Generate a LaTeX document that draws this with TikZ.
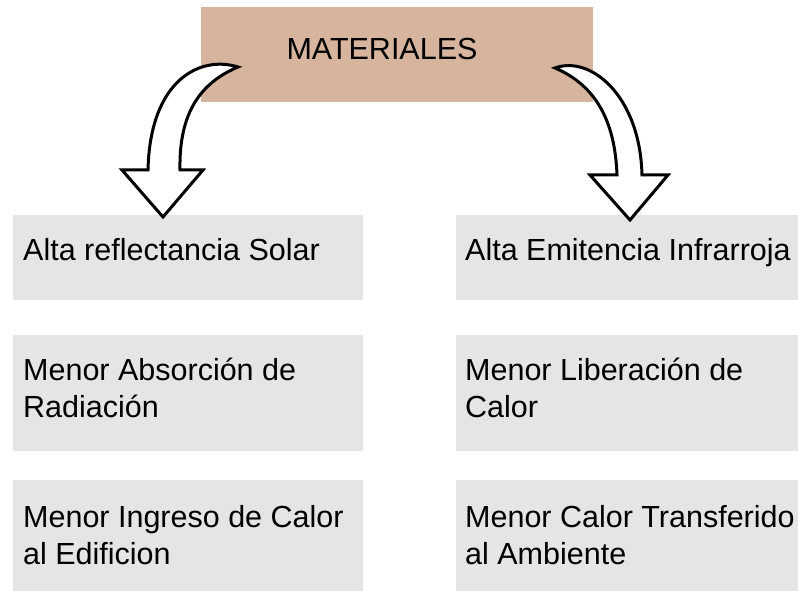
\documentclass[tikz,border=0pt]{standalone}
\usepackage{fontspec}
\setmainfont{Liberation Sans}
\usetikzlibrary{positioning}

\definecolor{headtan}{HTML}{D6B49E}
\definecolor{cellgray}{HTML}{E5E5E5}

\begin{document}
\begin{tikzpicture}[x=1pt, y=-1pt,
  cell/.style={fill=cellgray, anchor=north west, inner sep=0pt, outer sep=0pt},
  celltext/.style={inner sep=0pt, align=left, font=\fontsize{30.5}{37}\selectfont},
  bendarrow/.style={draw=black, fill=white, line width=3pt, line join=miter}]
  \useasboundingbox (0,0) rectangle (798,591);
  % header
  \node[fill=headtan, anchor=north west, inner sep=0pt, minimum width=392pt, minimum height=95pt] (mat) at (201,7) {};
  \node[celltext] (matlabel) at (382,49.5) {MATERIALES};
  % left column
  \node[cell, minimum width=350pt, minimum height=85pt] (l1) at (13,215) {};
  \node[cell, minimum width=350pt, minimum height=116pt] (l2) at (13,335) {};
  \node[cell, minimum width=350pt, minimum height=111pt] (l3) at (13,480) {};
  \node[celltext, below right=23pt and 10pt of l1.north west] (l1t) {Alta reflectancia Solar};
  \node[celltext, below right=23pt and 10pt of l2.north west] (l2t) {Menor Absorción de\\Radiación};
  \node[celltext, below right=25pt and 10pt of l3.north west] (l3t) {Menor Ingreso de Calor\\al Edificion};
  % right column
  \node[cell, minimum width=342pt, minimum height=85pt] (r1) at (456,215) {};
  \node[cell, minimum width=342pt, minimum height=116pt] (r2) at (456,335) {};
  \node[cell, minimum width=342pt, minimum height=111pt] (r3) at (456,480) {};
  \node[celltext, below right=23pt and 9pt of r1.north west] (r1t) {Alta Emitencia Infrarroja};
  \node[celltext, below right=23pt and 9pt of r2.north west] (r2t) {Menor Liberación de\\Calor};
  \node[celltext, below right=25pt and 9pt of r3.north west] (r3t) {Menor Calor Transferido\\al Ambiente};
  % curved block arrows
  \draw[bendarrow] (148,170) -- (122,170) -- (163,217) -- (203,170) -- (180,170)
    .. controls (179,120) and (195,85) .. (238,67)
    .. controls (200,55) and (150,80) .. cycle;
  \draw[bendarrow] (642,175) -- (668,175) -- (630,220) -- (590,175) -- (617,175)
    .. controls (615,120) and (595,85) .. (555,68)
    .. controls (590,55) and (640,95) .. cycle;
\end{tikzpicture}
\end{document}
